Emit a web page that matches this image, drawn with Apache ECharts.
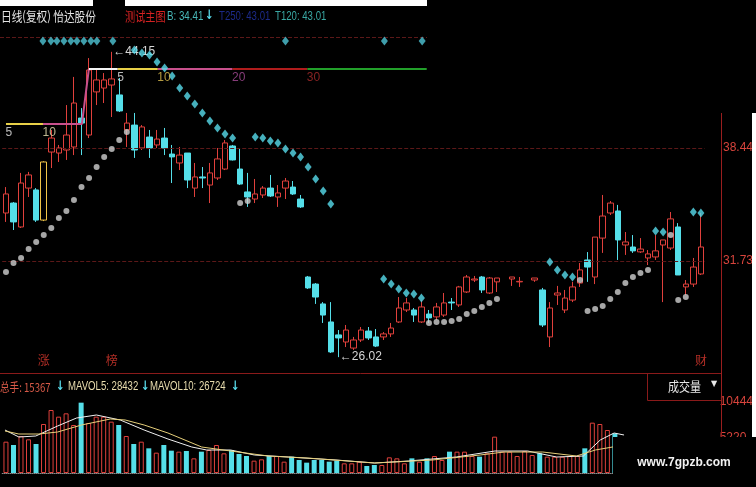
<!DOCTYPE html>
<html><head><meta charset="utf-8">
<script src="https://cdn.jsdelivr.net/npm/echarts@6/dist/echarts.min.js"></script>
<style>html,body{margin:0;padding:0;background:#000;}#c{width:756px;height:487px;}</style>
</head><body><div id="c"></div>
<script>
// ---------- data ----------
const categories = Array.from({length: 93}, (_, i) => 'D' + (i + 1));
const opens  = [34.58,35.17,33.75,36.06,35.95,34.16,38.20,38.14,38.32,38.50,40.22,39.21,41.77,42.00,42.18,41.59,39.51,39.80,38.44,39.09,38.62,39.03,38.08,37.55,38.14,36.06,36.72,36.24,36.66,37.19,38.56,37.19,35.83,35.41,35.65,36.06,35.53,36.06,36.12,35.41,30.78,30.36,29.18,28.11,27.34,26.92,26.56,27.04,27.57,27.22,27.22,27.40,28.11,28.82,28.82,28.11,28.58,28.41,28.52,29.29,29.12,29.89,30.60,30.78,29.83,30.49,null,30.66,30.49,null,30.60,30.01,27.22,29.71,28.82,29.41,30.42,31.79,30.78,33.09,34.58,34.70,32.68,32.56,32.27,31.91,31.97,32.68,32.50,33.75,30.19,30.36,30.96];
const closes = [35.71,34.05,36.36,36.84,34.16,37.61,39.03,38.44,39.21,41.11,39.92,43.07,42.48,42.48,42.54,40.64,39.92,38.32,39.69,38.44,38.97,38.44,37.91,38.02,36.54,36.72,36.66,36.96,37.79,38.74,37.73,36.30,35.53,35.71,36.06,35.59,35.77,36.48,35.71,34.94,30.13,29.59,28.52,26.33,27.16,27.63,27.04,27.63,27.16,26.68,27.40,27.75,28.94,29.24,28.52,29.00,28.35,29.00,29.24,29.24,30.19,30.78,30.66,30.01,30.72,30.72,null,30.78,30.52,null,30.72,27.93,28.94,29.83,29.53,30.19,31.20,31.37,33.15,34.40,35.17,32.98,32.86,32.33,32.44,32.15,32.33,32.98,34.23,30.90,30.36,31.37,32.56];
const lows   = [34.05,33.57,33.69,35.53,34.05,34.10,37.25,37.61,37.73,38.02,38.02,39.03,40.99,41.11,40.28,40.58,38.50,37.85,38.32,37.85,38.44,38.02,36.36,37.13,36.06,35.53,36.06,35.17,36.54,37.13,37.70,36.24,34.94,35.17,35.47,35.53,34.94,35.41,35.65,34.88,30.07,29.18,28.05,26.27,26.02,26.62,26.45,26.92,27.04,26.62,27.04,27.22,28.05,28.70,28.11,28.05,28.05,28.23,28.41,28.82,29.00,29.83,30.48,29.83,29.77,29.89,null,30.25,30.19,null,30.49,27.81,26.62,29.12,28.64,29.29,30.19,30.49,30.36,32.21,34.46,31.79,32.09,32.21,32.21,31.49,31.79,29.29,32.38,30.90,29.71,30.19,30.90];
const highs  = [36.12,35.23,36.96,37.02,36.06,37.65,39.51,38.62,40.99,42.66,40.81,43.78,43.19,42.89,44.15,42.60,40.52,40.52,39.80,39.51,39.51,39.63,38.62,38.50,38.14,37.55,37.31,37.55,38.44,38.91,38.62,38.44,36.96,36.60,36.18,36.84,36.24,36.66,36.48,35.65,30.84,30.42,29.29,29.29,27.63,27.93,27.22,27.81,27.81,27.69,27.51,28.05,29.59,29.53,28.94,29.41,28.82,29.24,29.83,29.53,30.25,30.90,30.84,30.84,30.78,30.72,null,30.78,30.78,null,30.72,30.13,29.29,30.25,30.01,30.49,31.61,32.26,33.15,35.65,35.29,35.06,33.45,33.27,33.09,32.38,33.27,32.98,34.64,33.98,30.60,31.91,34.58];
const volumes = [4604,4116,5439,4948,4263,7203,9261,8281,8771,7056,10339,7350,8281,8281,7546,7056,5439,4263,4604,3626,2989,4116,3283,3136,3234,2156,3136,3381,4116,2891,3381,2793,2499,1813,2009,2499,2499,1666,2401,1911,1519,1911,1911,1666,1813,1421,1421,1666,1029,1176,1176,2303,2156,1421,2156,1666,2156,2499,1911,3136,3136,3136,2499,2401,2891,5341,3136,3136,2499,3234,2646,2891,2401,2401,2401,2499,2499,3626,7399,7203,6321,5831,5243,4800,4200,3600,3300,3000,3400,3900,4300,3600,2400];
const priceTicks = [31.73, 38.44];
const volumeTicks = [5220, 10444];
const topSignalPos = [4.89, 5.95, 6.74, 7.67, 8.59, 9.39, 10.31, 11.24, 12.03, 14.15, 37.0, 50.1, 55.1];
const topSignalPrice = 44.79;
const sarAbove = [[17,44.26],[18,44.08],[19,43.96],[20,43.55],[21,43.19],[22,42.72],[23,42.00],[24,41.53],[25,41.05],[26,40.52],[27,40.04],[28,39.63],[29,39.27],[30,39.03],[33,39.09],[34,39.03],[35,38.86],[36,38.74],[37,38.38],[38,38.14],[39,37.91],[40,37.31],[41,36.60],[42,35.89],[43,35.11],[50,30.66],[51,30.36],[52,30.07],[53,29.83],[54,29.77],[55,29.53],[72,31.67],[73,31.20],[74,30.90],[75,30.78],[86,33.51],[87,33.45],[91,34.64],[92,34.58]];
const sarBelow = [[0,31.08],[1,31.61],[2,31.91],[3,32.44],[4,32.86],[5,33.27],[6,33.69],[7,34.28],[8,34.70],[9,35.35],[10,36.12],[11,36.66],[12,37.31],[13,37.91],[14,38.38],[15,38.91],[16,39.39],[31,35.17],[32,35.29],[56,28.05],[57,28.11],[58,28.11],[59,28.17],[60,28.29],[61,28.58],[62,28.76],[63,29.00],[64,29.24],[65,29.47],[76,30.60],[77,28.76],[78,28.88],[79,29.06],[80,29.47],[81,29.89],[82,30.42],[83,30.78],[84,31.02],[85,31.20],[88,33.27],[89,29.41],[90,29.59]];
const costLine5a  = [[0, 39.86], [4.9, 39.86]];
const costLine10a = [[4.9, 39.86], [10.05, 39.86], [10.97, 43.13]];
const costLineW   = [[10.97, 43.13], [14.8, 43.13]];
const costLine5b  = [[14.8, 43.13], [20.1, 43.13]];
const costLine10b = [[20.1, 43.13], [30.0, 43.13]];
const costLine20  = [[30.0, 43.13], [39.9, 43.13]];
const costLine30  = [[39.9, 43.13], [55.7, 43.13]];
const costLabels  = [[0, 39.86, '5'], [4.9, 39.86, '10'], [14.8, 43.13, '5'], [20.1, 43.13, '10'], [30.0, 43.13, '20'], [39.9, 43.13, '30']];
const costLabelColors = ['#e6e6e6', '#e8e0b0', '#e6e6e6', '#e0c050', '#a84c98', '#a82a2a'];
const mavolA = [[-0.13,6321],[1.72,5292],[3.97,5439],[6.87,6909],[9.39,8085],[12.03,8526],[15.2,7791],[18.38,6321],[21.55,4998],[24.72,3822],[26.7,3381],[29.88,3381],[33.05,2646],[37.55,2352],[43.9,1911],[49.05,1470],[53.54,1764],[59.89,2352],[65.04,3234],[69.4,3234],[73.24,2352],[76.81,2499],[79.05,4851],[80.9,5880],[82.22,5586]];
const mavolB = [[-0.13,6174],[1.72,5733],[4.37,5733],[6.87,6027],[10.05,7056],[13.88,7938],[15.87,7791],[18.38,7056],[21.55,5880],[26.04,3822],[29.88,3234],[34.9,2499],[40.05,2205],[49.05,1470],[56.72,1911],[63.07,2646],[66.24,3087],[71.4,3087],[75.89,2499],[78.4,3381],[82.22,4116]];
const eventFlags = [[5, 25.85, '涨'], [14, 25.85, '榜'], [92, 25.85, '财']];
const extremeLabels = [[14, 44.15, '←44.15'], [44, 26.02, '←26.02']];

// ---------- build ----------
const RED = '#e0403c', CYAN = '#55dfe9';
const SANS = "'Liberation Sans','DejaVu Sans',Arial,sans-serif";
const CJK = "'Noto Sans CJK SC',sans-serif";
const candleData = opens.map((o, i) => {
  if (o === null) return '-';
  const item = {value: [o, closes[i], lows[i], highs[i]]};
  if (i === 5) item.itemStyle = {borderColor: '#f0c448'};
  return item;
});
const isUp = i => opens[i] === null || closes[i] >= opens[i];
const volData = volumes.map((v, i) => ({
  value: v,
  itemStyle: isUp(i) ? {color: 'rgba(0,0,0,0)', borderColor: RED, borderWidth: 1} : {color: CYAN}
}));
function costSeries(data, color) {
  return {type: 'line', xAxisIndex: 1, yAxisIndex: 0, data: data, symbol: 'none', silent: true, z: 4,
    lineStyle: {color: color, width: 2}};
}
function txt(x, y, text, fill, font, sx) {
  return {type: 'text', x: x, y: y, scaleX: sx || 1, z: 51,
    style: {text: text, fill: fill, font: font, verticalAlign: 'middle'}};
}
const GL = 2.2, GW = 703.5;
const chart = echarts.init(document.getElementById('c'));
chart.setOption({
  backgroundColor: '#000',
  animation: false,
  grid: [
    {left: GL, top: 37, width: GW, height: 333},
    {left: GL, top: 400, width: GW, height: 73}
  ],
  xAxis: [
    {type: 'category', gridIndex: 0, data: categories, show: false},
    {type: 'value', gridIndex: 0, min: -0.5, max: 92.5, show: false},
    {type: 'category', gridIndex: 1, data: categories, axisLabel: {show: false}, axisTick: {show: false},
      axisLine: {show: true, lineStyle: {color: '#8a8a8a', type: 'dotted'}}},
    {type: 'value', gridIndex: 1, min: -0.5, max: 92.5, show: false}
  ],
  yAxis: [
    {type: 'value', gridIndex: 0, min: 25.257, max: 45.031, position: 'right', offset: 15.3,
      axisLine: {show: false}, axisTick: {show: false}, splitLine: {show: false},
      axisLabel: {customValues: priceTicks, color: '#d8443c', fontSize: 12, margin: 3, fontFamily: SANS,
        formatter: v => v.toFixed(2)}},
    {type: 'value', gridIndex: 1, min: 0, max: 10731, position: 'right', offset: 15.3,
      axisLine: {show: false}, axisTick: {show: false}, splitLine: {show: false},
      axisLabel: {customValues: volumeTicks, color: '#d8443c', fontSize: 12, margin: 3, fontFamily: SANS,
        formatter: v => String(v)}}
  ],
  series: [
    {type: 'candlestick', name: 'K', xAxisIndex: 0, yAxisIndex: 0, data: candleData, barWidth: 6, z: 3,
      itemStyle: {color: '#000', color0: CYAN, borderColor: RED, borderColor0: CYAN, borderWidth: 1},
      markLine: {silent: true, symbol: ['none', 'none'], label: {show: false},
        lineStyle: {color: '#5c1818', type: 'dashed', width: 1},
        data: priceTicks.map(v => ({yAxis: v}))},
      markPoint: {symbol: 'circle', symbolSize: 1, itemStyle: {color: 'rgba(0,0,0,0)'},
        label: {show: true, position: 'right', distance: 1, color: '#d6d6d6', fontSize: 12, fontFamily: SANS,
          formatter: p => p.data.name},
        data: extremeLabels.map(d => ({coord: [categories[d[0]], d[1]], name: d[2]}))}
    },
    {type: 'scatter', name: 'top', xAxisIndex: 1, yAxisIndex: 0, symbol: 'diamond', symbolSize: [7, 9], z: 5,
      itemStyle: {color: '#4fc6d6'}, data: topSignalPos.map(v => [v, topSignalPrice])},
    {type: 'scatter', name: 'sarUp', xAxisIndex: 0, yAxisIndex: 0, symbol: 'diamond', symbolSize: [7, 9], z: 5,
      itemStyle: {color: '#58dcec'}, data: sarAbove},
    {type: 'scatter', name: 'sarDn', xAxisIndex: 0, yAxisIndex: 0, symbol: 'circle', symbolSize: 6, z: 5,
      itemStyle: {color: '#d0d0d0'}, data: sarBelow},
    costSeries(costLine5a, '#e8d048'),
    costSeries(costLine10a, '#c8508c'),
    costSeries(costLineW, '#f4f4f4'),
    costSeries(costLine5b, '#e8d048'),
    costSeries(costLine10b, '#c8508c'),
    costSeries(costLine20, '#b01c1c'),
    costSeries(costLine30, '#22a02a'),
    {type: 'scatter', name: 'costLabels', xAxisIndex: 1, yAxisIndex: 0, symbolSize: 1, silent: true, z: 6,
      itemStyle: {color: 'rgba(0,0,0,0)'},
      data: costLabels.map((d, k) => ({value: d, label: {color: costLabelColors[k]}})),
      label: {show: true, position: [0, 3], align: 'left', verticalAlign: 'top', fontSize: 12, fontFamily: SANS,
        formatter: p => p.value[2]}},
    {type: 'scatter', name: 'flags', xAxisIndex: 0, yAxisIndex: 0, symbolSize: 1, silent: true, z: 6,
      itemStyle: {color: 'rgba(0,0,0,0)'}, data: eventFlags,
      label: {show: true, position: 'inside', color: '#e03a30', fontSize: 12, fontFamily: CJK, formatter: p => p.value[2]}},
    {type: 'bar', name: 'vol', xAxisIndex: 2, yAxisIndex: 1, data: volData, barWidth: 5},
    {type: 'line', name: 'MAVOL5', xAxisIndex: 3, yAxisIndex: 1, data: mavolA, symbol: 'none', z: 4,
      lineStyle: {color: '#f0f0f0', width: 1}},
    {type: 'line', name: 'MAVOL10', xAxisIndex: 3, yAxisIndex: 1, data: mavolB, symbol: 'none', z: 4,
      lineStyle: {color: '#e6cf7a', width: 1}}
  ],
  graphic: [
    {type: 'rect', shape: {x: 0, y: 0, width: 93, height: 6}, style: {fill: '#fff'}, z: 100},
    {type: 'rect', shape: {x: 125, y: 0, width: 302, height: 6}, style: {fill: '#fff'}, z: 100},
    {type: 'rect', shape: {x: 752, y: 113, width: 4, height: 324}, style: {fill: '#fff'}, z: 100},
    {type: 'line', shape: {x1: 0, y1: 37.5, x2: 427, y2: 37.5}, style: {stroke: '#5c1818', lineDash: [4, 2]}, z: 1},
    {type: 'line', shape: {x1: 721.5, y1: 113, x2: 721.5, y2: 487}, style: {stroke: '#9a1e1e', lineWidth: 1}, z: 50},
    {type: 'line', shape: {x1: 0, y1: 373.5, x2: 721, y2: 373.5}, style: {stroke: '#8a1a1a', lineWidth: 1}, z: 50},
    {type: 'polyline', shape: {points: [[647.5, 373.5], [647.5, 400.5], [721, 400.5]]}, style: {stroke: '#8a1a1a', fill: null}, z: 50},
    txt(668, 386, '成交量', '#e8e8e8', "13px 'Noto Sans CJK SC'", 0.85),
    txt(711, 384, '▼', '#e8e8e8', "8px 'DejaVu Sans'"),
    txt(1, 16, '日线(复权) 怡达股份', '#e4e4e4', "13px 'Noto Sans CJK SC'", 0.82),
    txt(125, 16, '测试主图', '#d42222', "13px 'Noto Sans CJK SC'", 0.78),
    txt(167, 16, 'B: 34.41', '#48b8b8', "13px " + SANS, 0.75),
    txt(205, 16, '↓', '#58dcec', "bold 13px 'DejaVu Sans'", 0.8),
    txt(219, 16, 'T250: 43.01', '#1c2a88', "13px " + SANS, 0.74),
    txt(275, 16, 'T120: 43.01', '#3aa8a4', "13px " + SANS, 0.74),
    txt(0, 387, '总手: 15367', '#d85a48', "12px 'Noto Sans CJK SC'", 0.8),
    txt(56, 387, '↓', '#58dcec', "bold 13px 'DejaVu Sans'", 0.8),
    txt(68, 387, 'MAVOL5: 28432', '#e8dcae', "12px " + SANS, 0.8),
    txt(141, 387, '↓', '#58dcec', "bold 13px 'DejaVu Sans'", 0.8),
    txt(150, 387, 'MAVOL10: 26724', '#e8dcae', "12px " + SANS, 0.8),
    txt(231, 387, '↓', '#58dcec', "bold 13px 'DejaVu Sans'", 0.8),
    {type: 'rect', shape: {x: 613, y: 437, width: 143, height: 50}, style: {fill: '#000'}, z: 200},
    {type: 'text', x: 684, y: 463, z: 201, style: {text: 'www.7gpzb.com', fill: '#f2f2f2', font: "bold 12px 'Liberation Sans',Arial,sans-serif", align: 'center', verticalAlign: 'middle'}}
  ]
});
</script>
</body></html>
